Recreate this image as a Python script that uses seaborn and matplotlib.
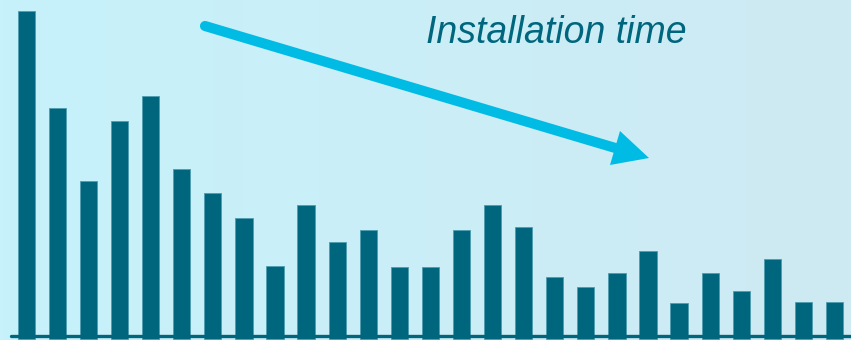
import numpy as np
import pandas as pd
import matplotlib
matplotlib.use("Agg")
import matplotlib.pyplot as plt
from matplotlib.patches import Polygon
from matplotlib.lines import Line2D
import seaborn as sns

# ---- data (arbitrary units) ----
releases = [str(i) for i in range(1, 28)]
install_time = [328, 231, 158, 218, 243, 170, 146, 121, 73, 134, 97, 109, 72, 72,
                109, 134, 112, 62, 52, 66, 88, 36, 66, 48, 80, 37, 37]
title_text = "Installation time"

BAR = "#00667E"
EDGE = "#4E9DB0"
ARROW = "#00BCE4"
TEXT = "#00667E"

sns.set_theme(style="white")
plt.rcParams["font.family"] = ["Liberation Sans", "DejaVu Sans"]

W, H = 851, 340
fig = plt.figure(figsize=(W / 100, H / 100), dpi=100)

# gradient background
bg = fig.add_axes([0, 0, 1, 1], zorder=0)
grad = np.linspace(0, 1, 256)[None, :, None]
c0 = np.array([199, 242, 251]) / 255
c1 = np.array([206, 234, 243]) / 255
img = c0 + (c1 - c0) * grad
bg.imshow(img, aspect="auto", extent=[0, 1, 0, 1])
bg.axis("off")

ax = fig.add_axes([0, 0, 1, 1], zorder=1)
ax.patch.set_alpha(0)
df = pd.DataFrame({"release": releases, "time": install_time})
sns.barplot(data=df, x="release", y="time", ax=ax, color=BAR, saturation=1,
            width=0.555, edgecolor=EDGE, linewidth=0.6)
ax.set_xlim(-0.848, 26.53)
ax.set_ylim(-1.5, 338.5)
ax.axhline(2.8, xmin=11 / W, xmax=1, color=BAR, lw=2.4, zorder=5)
ax.axis("off")

# arrow (figure pixel coordinates, y measured from top)
def fp(x, y):
    return (x / W, 1 - y / H)

sx, sy = fp(205, 26)
ex, ey = fp(617, 148.5)
fig.add_artist(Line2D([sx, ex], [sy, ey], transform=fig.transFigure,
                      color=ARROW, lw=7.3, solid_capstyle="round", zorder=3))
head = Polygon([fp(649, 158), fp(620, 131), fp(610, 165)], closed=True,
               transform=fig.transFigure, facecolor=ARROW, edgecolor="none", zorder=3)
fig.add_artist(head)

fig.text(426 / W, 1 - 42.7 / H, title_text, fontsize=27, style="italic",
         color=TEXT, ha="left", va="baseline", zorder=4)

fig.savefig("out.png", dpi=100)
